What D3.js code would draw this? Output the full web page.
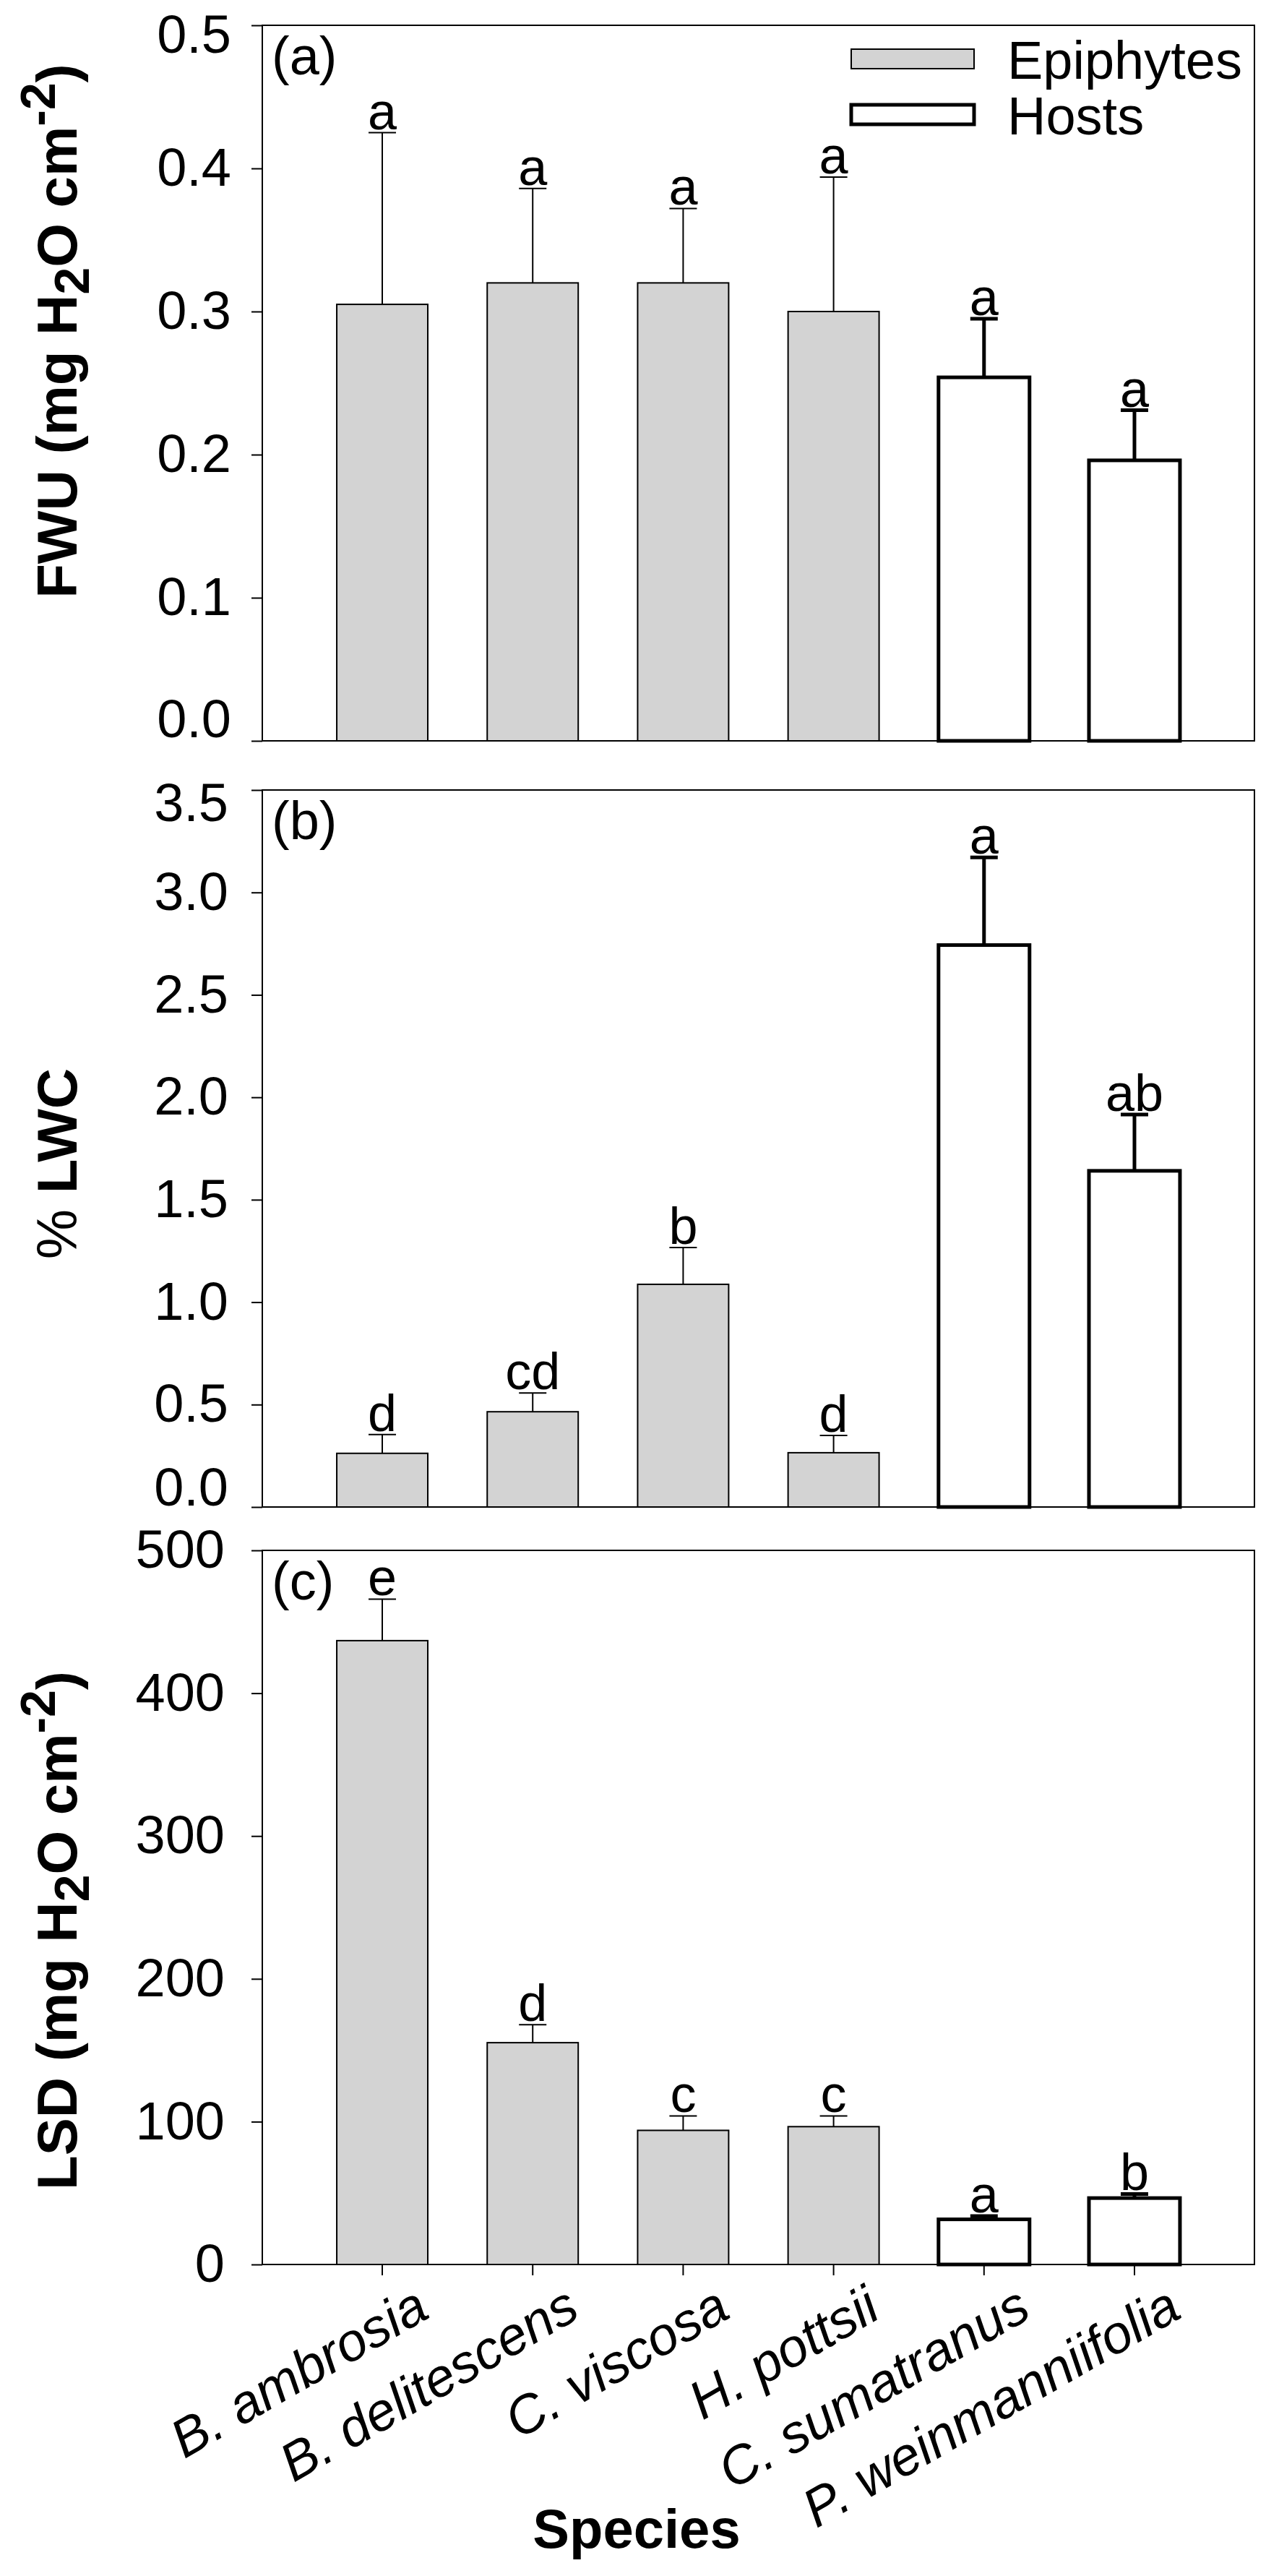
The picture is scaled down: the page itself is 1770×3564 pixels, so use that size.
<!DOCTYPE html>
<html><head><meta charset="utf-8">
<script src="https://cdn.jsdelivr.net/npm/d3@7"></script>
<style>
body{margin:0;background:#fff}
svg{display:block}
text{font-family:"Liberation Sans",Arial,Helvetica,sans-serif;fill:#000}
</style>
</head><body>
<svg id="chart" width="1770" height="3564"></svg>
<script>
// ---------- data ----------
const species = ["B. ambrosia","B. delitescens","C. viscosa","H. pottsii","C. sumatranus","P. weinmanniifolia"];
const groups = ["Epiphytes","Epiphytes","Epiphytes","Epiphytes","Hosts","Hosts"];
const groupNames = ["Epiphytes","Hosts"];

const fwuMean = [0.305,0.320,0.320,0.300,0.254,0.196];
const fwuSE   = [0.120,0.066,0.052,0.094,0.041,0.035];
const fwuLetters = ["a","a","a","a","a","a"];

const lwcMean = [0.262,0.465,1.087,0.265,2.743,1.641];
const lwcSE   = [0.092,0.092,0.180,0.084,0.428,0.275];
const lwcLetters = ["d","cd","b","d","a","ab"];

const lsdMean = [436.8,155.3,93.9,96.5,31.6,46.5];
const lsdSE   = [29.1,12.6,10.1,7.5,2.3,2.9];
const lsdLetters = ["e","d","c","c","a","b"];

const fwuTicks = [0,0.1,0.2,0.3,0.4,0.5];
const lwcTicks = [0,0.5,1.0,1.5,2.0,2.5,3.0,3.5];
const lsdTicks = [0,100,200,300,400,500];

const fwuTitle = [["FWU (mg H","b"],["2","sub"],["O cm","b"],["-2","sup"],[")","b"]];
const lwcTitle = [["% ","n"],["LWC","b"]];
const lsdTitle = [["LSD (mg H","b"],["2","sub"],["O cm","b"],["-2","sup"],[")","b"]];
const xTitle = "Species";

// ---------- layout ----------
const svg = d3.select("#chart");
const X0 = 363, X1 = 1736;
const GREY = "#d3d3d3";
const x = d3.scaleBand().domain(species).range([X0, X1])
  .paddingInner(0.395).paddingOuter(0.495).align(0.5);
const isHost = i => groups[i] === "Hosts";
const sw = i => isHost(i) ? 5 : 2;

const panels = [
  {label:"(a)", mean:fwuMean, se:fwuSE, letters:fwuLetters, ticks:fwuTicks, fmt:d3.format(".1f"),
   top:35, bottom:1025, pad:28, shiftFirst:-29, shiftLast:14, titleY:458, title:fwuTitle, xAxis:false, legend:true},
  {label:"(b)", mean:lwcMean, se:lwcSE, letters:lwcLetters, ticks:lwcTicks, fmt:d3.format(".1f"),
   top:1093, bottom:2085, pad:32, shiftFirst:-26, shiftLast:19, titleY:1610, title:lwcTitle, xAxis:false, legend:false},
  {label:"(c)", mean:lsdMean, se:lsdSE, letters:lsdLetters, ticks:lsdTicks, fmt:d3.format("d"),
   top:2145, bottom:3133, pad:37, shiftFirst:0, shiftLast:0, titleY:2671, title:lsdTitle, xAxis:true, legend:false}
];

panels.forEach(p => {
  const y = d3.scaleLinear()
    .domain([p.ticks[0], p.ticks[p.ticks.length-1]])
    .range([p.bottom, p.top]);
  const g = svg.append("g");

  // bars
  g.selectAll("rect.bar").data(p.mean).join("rect")
    .attr("class","bar")
    .attr("x", (d,i) => x(species[i]))
    .attr("width", x.bandwidth())
    .attr("y", d => y(d))
    .attr("height", d => y(0) - y(d))
    .attr("fill", (d,i) => isHost(i) ? "#fff" : GREY)
    .attr("stroke","#000")
    .attr("stroke-width", (d,i) => sw(i));

  // error bars
  const cx = i => x(species[i]) + x.bandwidth()/2;
  g.selectAll("line.err").data(p.mean).join("line")
    .attr("x1",(d,i)=>cx(i)).attr("x2",(d,i)=>cx(i))
    .attr("y1",d=>y(d)).attr("y2",(d,i)=>y(d+p.se[i]))
    .attr("stroke","#000").attr("stroke-width",(d,i)=>sw(i));
  g.selectAll("line.cap").data(p.mean).join("line")
    .attr("x1",(d,i)=>cx(i)-19).attr("x2",(d,i)=>cx(i)+19)
    .attr("y1",(d,i)=>y(d+p.se[i])).attr("y2",(d,i)=>y(d+p.se[i]))
    .attr("stroke","#000").attr("stroke-width",(d,i)=>sw(i));

  // significance letters
  g.selectAll("text.let").data(p.letters).join("text")
    .attr("x",(d,i)=>cx(i))
    .attr("y",(d,i)=>y(p.mean[i]+p.se[i]) - 5)
    .attr("text-anchor","middle")
    .attr("font-size",72)
    .text(d=>d);

  // y axis
  const ax = g.append("g").attr("transform",`translate(${X0},0)`)
    .call(d3.axisLeft(y).tickValues(p.ticks).tickFormat(p.fmt)
      .tickSize(15).tickSizeOuter(0).tickPadding(p.pad));
  ax.select(".domain").remove();
  ax.selectAll(".tick line").attr("stroke","#000").attr("stroke-width",2);
  ax.selectAll(".tick text").attr("font-size",74).attr("font-family",null)
    .attr("fill","#000")
    .attr("y",(d,i,n)=> i===0 ? p.shiftFirst : (i===n.length-1 ? p.shiftLast : 0));

  // x axis (bottom panel only)
  if (p.xAxis) {
    const xa = g.append("g").attr("transform",`translate(0,${p.bottom})`)
      .call(d3.axisBottom(x).tickSize(15).tickSizeOuter(0).tickFormat(""));
    xa.select(".domain").remove();
    xa.selectAll(".tick line").attr("stroke","#000").attr("stroke-width",2);
    g.selectAll("text.xl").data(species).join("text")
      .attr("class","xl")
      .attr("transform",d=>`translate(${x(d)+x.bandwidth()/2+68},${p.bottom+72}) rotate(-30)`)
      .attr("text-anchor","end")
      .attr("font-size",74)
      .attr("font-style","italic")
      .text(d=>d);
  }

  // frame
  g.append("rect").attr("x",X0).attr("y",p.top)
    .attr("width",X1-X0).attr("height",p.bottom-p.top)
    .attr("fill","none").attr("stroke","#000").attr("stroke-width",2);

  // panel label
  g.append("text").attr("x",376).attr("y",p.top+68)
    .attr("font-size",74).text(p.label);

  // y title
  const t = g.append("text")
    .attr("transform",`translate(106,${p.titleY}) rotate(-90)`)
    .attr("text-anchor","middle").attr("font-size",78);
  let prev = "n";
  p.title.forEach(([s,k]) => {
    const ts = t.append("tspan").text(s);
    let dy = 0;
    if (prev==="sub") dy -= 17;
    if (prev==="sup") dy += 30;
    if (k==="sub") { dy += 17; ts.attr("font-size",68); }
    if (k==="sup") { dy -= 30; ts.attr("font-size",68); }
    if (dy) ts.attr("dy",dy);
    ts.attr("font-weight", k==="n" ? "normal" : "bold");
    prev = k;
  });

  // legend
  if (p.legend) {
    const lg = g.append("g");
    const ly = [68,145];
    groupNames.forEach((nm,j) => {
      lg.append("rect").attr("x",1178).attr("y",ly[j]).attr("width",170).attr("height",27)
        .attr("fill", j===0 ? GREY : "#fff").attr("stroke","#000")
        .attr("stroke-width", j===0 ? 2 : 5);
      lg.append("text").attr("x",1394).attr("y",ly[j]+41)
        .attr("font-size",74).text(nm);
    });
  }
});

// x title
svg.append("text").attr("x",881).attr("y",3525).attr("text-anchor","middle")
  .attr("font-size",76).attr("font-weight","bold").text(xTitle);
</script>
</body></html>
